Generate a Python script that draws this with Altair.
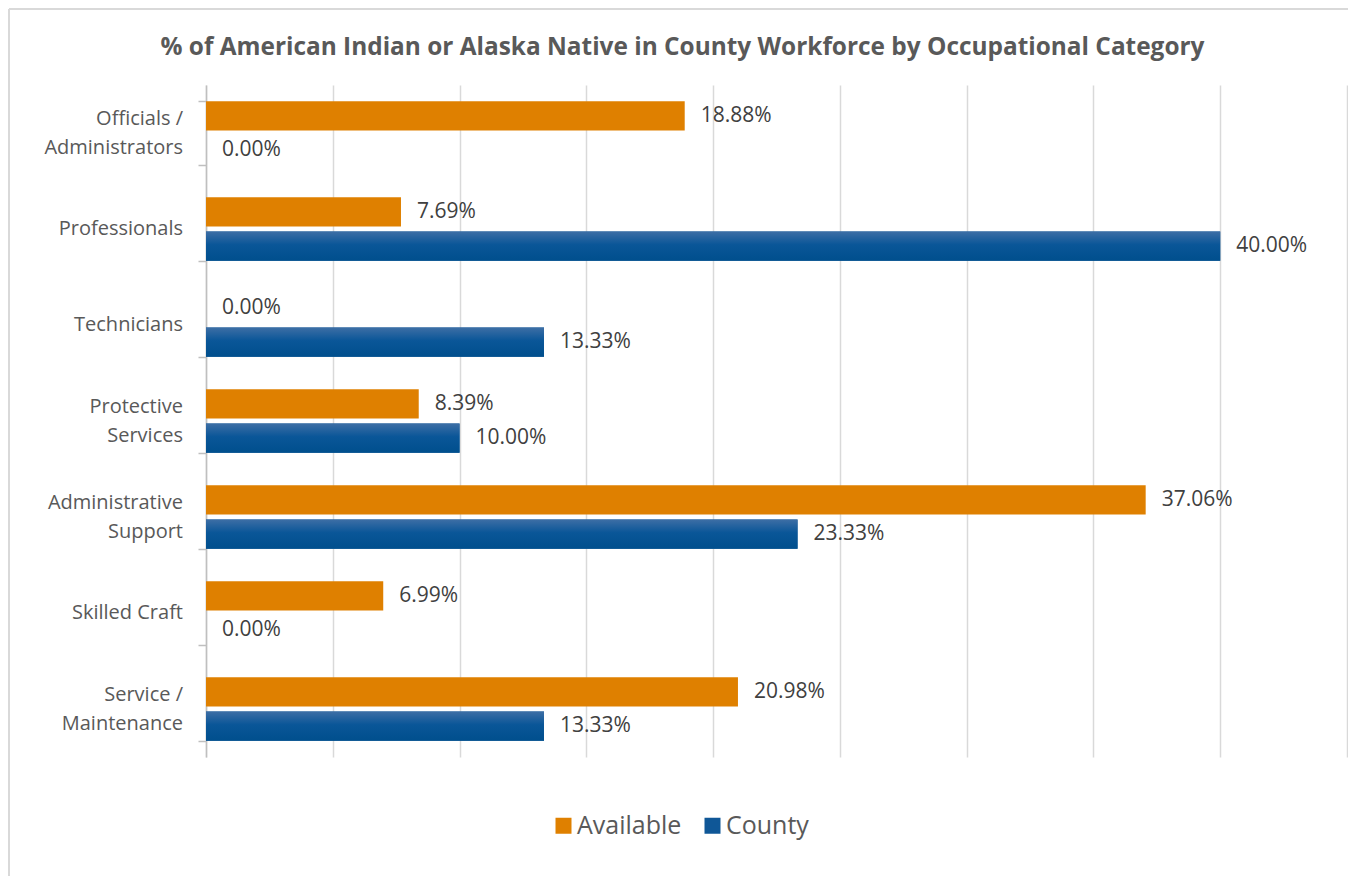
import altair as alt
import pandas as pd

categories = [
    "Officials /|Administrators",
    "Professionals",
    "Technicians",
    "Protective|Services",
    "Administrative|Support",
    "Skilled Craft",
    "Service /|Maintenance",
]
series = ["Available", "County"]
available = [18.88, 7.69, 0.00, 8.39, 37.06, 6.99, 20.98]
county = [0.00, 40.00, 13.33, 10.00, 23.33, 0.00, 13.33]
x_ticks = [0, 5, 10, 15, 20, 25, 30, 35, 40, 45]
colors = ["#df8000", "#0f5797"]

rows = []
for c, a, k in zip(categories, available, county):
    rows.append({"category": c, "series": "Available", "value": a})
    rows.append({"category": c, "series": "County", "value": k})
df = pd.DataFrame(rows)
df["label"] = df["value"].map(lambda v: f"{v:.2f}%")

# category label lines (for centred multi-line axis labels)
cat_rows = []
for c in categories:
    parts = c.split("|")
    if len(parts) == 1:
        cat_rows.append({"category": c, "line": parts[0], "pos": "single"})
    else:
        cat_rows.append({"category": c, "line": parts[0], "pos": "top"})
        cat_rows.append({"category": c, "line": parts[1], "pos": "bottom"})
cat_df = pd.DataFrame(cat_rows)

FONT = "Open Sans"

x_enc = alt.X(
    "value:Q",
    scale=alt.Scale(domain=[0, 45], nice=False, zero=True),
    axis=alt.Axis(values=x_ticks, labels=False, ticks=False, domain=False,
                  grid=True, gridColor="#d9d9d9", gridWidth=1.5, title=None),
)
y_enc = alt.Y(
    "category:N",
    sort=categories,
    scale=alt.Scale(paddingInner=0.34, paddingOuter=0.17),
    axis=alt.Axis(
        title=None,
        labels=False,
        tickBand="extent",
        tickSize=8,
        tickColor="#bfbfbf",
        domainColor="#bfbfbf",
        domainWidth=1.5,
        tickWidth=1.5,
        grid=False,
    ),
)
yoff = alt.YOffset("series:N", sort=series,
                   scale=alt.Scale(paddingInner=0.15, paddingOuter=0))

base = alt.Chart(df)

bars = base.mark_bar().encode(
    x=x_enc,
    y=y_enc,
    yOffset=yoff,
    color=alt.Color("series:N", sort=series,
                    scale=alt.Scale(domain=series, range=colors),
                    legend=alt.Legend(title=None)),
)

grad = alt.Gradient(
    gradient="linear",
    stops=[
        alt.GradientStop(color="#3d6ea5", offset=0),
        alt.GradientStop(color="#0a5698", offset=0.45),
        alt.GradientStop(color="#004f8d", offset=1),
    ],
    x1=0, x2=0, y1=0, y2=1,
)
county_bars = base.transform_filter("datum.series == 'County'").mark_bar(fill=grad).encode(
    x="value:Q",
    y=alt.Y("category:N", sort=categories),
    yOffset=alt.YOffset("series:N", sort=series),
)

labels = base.mark_text(
    align="left", baseline="middle", dx=16, font=FONT, fontSize=21, color="#404040"
).encode(
    x="value:Q",
    y=alt.Y("category:N", sort=categories),
    yOffset=alt.YOffset("series:N", sort=series),
    text="label:N",
)

cat_base = alt.Chart(cat_df)
cat_layers = []
for pos, dy in [("single", 0), ("top", -14.5), ("bottom", 14.5)]:
    cat_layers.append(
        cat_base.transform_filter(f"datum.pos == '{pos}'").mark_text(
            align="right", baseline="middle", dy=dy, font=FONT, fontSize=20, color="#595959"
        ).encode(
            x=alt.value(-23),
            y=alt.Y("category:N", sort=categories),
            text="line:N",
        )
    )

frame_data = alt.Data(values=[{"k": 1}])
frame_left = alt.Chart(frame_data).mark_rule(color="#d9d9d9", strokeWidth=2).encode(
    x=alt.value(-197), y=alt.value(-76), y2=alt.value(791)
)
frame_top = alt.Chart(frame_data).mark_rule(color="#d9d9d9", strokeWidth=2).encode(
    x=alt.value(-197), x2=alt.value(1142), y=alt.value(-76)
)

chart = alt.layer(bars, county_bars, labels, *cat_layers, frame_left, frame_top).properties(
    width=1141,
    height=672,
    autosize=alt.AutoSizeParams(type="none"),
    padding={"left": 198, "top": 77, "right": 1, "bottom": 119},
    background="white",
    title=alt.TitleParams(
        text="% of American Indian or Alaska Native in County Workforce by Occupational Category",
        font=FONT, fontSize=24.4, fontWeight="bold", color="#595959",
        anchor="middle", frame="group", dx=-94, baseline="middle", offset=0, dy=64,
    ),
).configure_view(stroke=None).configure_legend(
    orient="none",
    legendX=345,
    legendY=728,
    direction="horizontal",
    symbolType="square",
    symbolSize=256,
    symbolStrokeWidth=0,
    labelFont=FONT,
    labelFontSize=25,
    labelColor="#595959",
    labelOffset=1,
    columnPadding=18,
    padding=0,
)

chart.save("out.html", embed_options={"renderer": "svg", "actions": False})
